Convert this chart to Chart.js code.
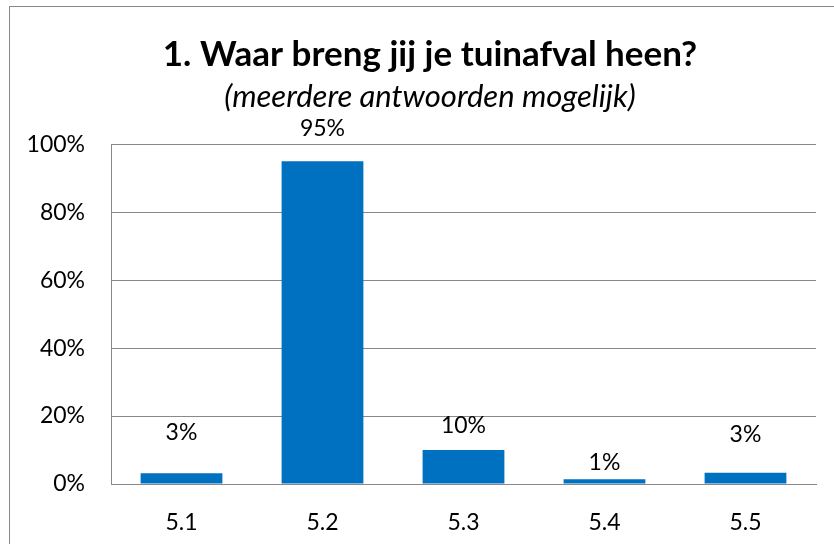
<!DOCTYPE html>
<html>
<head>
<meta charset="utf-8">
<script src="https://cdn.jsdelivr.net/npm/chart.js@4"></script>
<style>
  html, body { margin: 0; padding: 0; background: #fff; overflow: hidden; }
  #wrap { position: relative; width: 834px; height: 544px; }
  #frame { position: absolute; left: 9px; top: 6px; width: 900px; height: 600px; border: 1px solid #898989; }
  canvas { position: absolute; left: 0; top: 0; }
</style>
</head>
<body>
<div id="wrap">
  <div id="frame"></div>
  <canvas id="chart" width="834" height="544"></canvas>
</div>
<script>
const categories = ['5.1', '5.2', '5.3', '5.4', '5.5'];
const shares = [3.2, 95, 10, 1.4, 3.3];
const titleText = '1. Waar breng jij je tuinafval heen?';
const subtitleText = '(meerdere antwoorden mogelijk)';
// how far above each bar top its label sits (px), as in the original
const labelLift = [41, 33, 24, 17, 38];

const barLabels = {
    id: 'barLabels',
    afterDatasetsDraw(chart) {
        const ctx = chart.ctx;
        const meta = chart.getDatasetMeta(0);
        ctx.save();
        ctx.font = '23px Lato';
        ctx.fillStyle = '#000';
        ctx.textAlign = 'center';
        ctx.textBaseline = 'middle';
        meta.data.forEach(function (bar, i) {
            ctx.fillText(Math.round(shares[i]) + '%', bar.x, bar.y - labelLift[i]);
        });
        ctx.restore();
    }
};

// the original centres its headings over the frame, a bit right of the canvas middle
const nudgeTitles = {
    id: 'nudgeTitles',
    afterLayout(chart) {
        chart.boxes.forEach(function (b) {
            if (b.options && (b.options.text === titleText || b.options.text === subtitleText)) {
                b.left += 22;
                b.right += 22;
            }
        });
    }
};

document.addEventListener("DOMContentLoaded", function () {
    const ctx = document.getElementById('chart').getContext('2d');
    new Chart(ctx, {
        type: 'bar',
        data: {
            labels: categories,
            datasets: [{
                data: shares,
                backgroundColor: '#0070C0',
                borderWidth: 0,
                barPercentage: 0.58,
                categoryPercentage: 1
            }]
        },
        options: {
            responsive: false,
            animation: false,
            layout: { padding: { left: 0, right: 18, top: 0, bottom: 0 } },
            plugins: {
                legend: { display: false },
                tooltip: { enabled: false },
                title: {
                    display: true,
                    text: titleText,
                    color: '#000',
                    font: { family: 'Lato', size: 35, weight: 'bold', lineHeight: 1.2 },
                    padding: { top: 34, bottom: 2 }
                },
                subtitle: {
                    display: true,
                    text: subtitleText,
                    color: '#000',
                    font: { family: 'Lato', size: 31, style: 'italic', lineHeight: 1.2 },
                    padding: { top: 0, bottom: 29 }
                }
            },
            scales: {
                x: {
                    grid: { display: false, drawTicks: false },
                    border: { color: '#898989', width: 1 },
                    ticks: { color: '#000', font: { family: 'Lato', size: 23 }, padding: 25 },
                    afterFit: function (scale) { scale.height = 60; }
                },
                y: {
                    min: 0,
                    max: 100,
                    ticks: {
                        stepSize: 20,
                        color: '#000',
                        font: { family: 'Lato', size: 23 },
                        padding: 26,
                        callback: function (v) { return v + '%'; }
                    },
                    grid: { color: '#898989', drawTicks: false },
                    border: { color: '#898989', width: 1 },
                    afterFit: function (scale) { scale.width = 111; }
                }
            }
        },
        plugins: [barLabels, nudgeTitles]
    });
});
</script>
</body>
</html>
